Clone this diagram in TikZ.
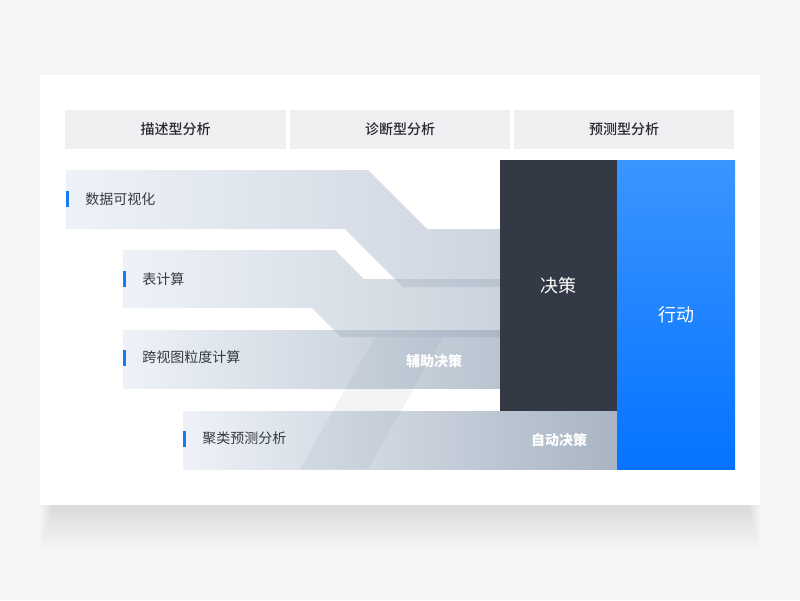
\documentclass[tikz,border=0pt]{standalone}
\usepackage{fontspec}
\newfontfamily\cjk{Noto Sans CJK SC}
\newfontfamily\cjkmid{Noto Sans CJK SC Medium}
\usetikzlibrary{positioning}
\definecolor{pagebg}{HTML}{F5F5F6}
\definecolor{headbg}{HTML}{EEEFF1}
\definecolor{headtxt}{HTML}{26282C}
\definecolor{flowink}{HTML}{363A42}
\definecolor{bandL}{HTML}{EEF2F8}
\definecolor{bandRa}{HTML}{CDD5DF}
\definecolor{bandRb}{HTML}{CBD3DC}
\definecolor{bandRc}{HTML}{B9C4D0}
\definecolor{bandRd}{HTML}{A9B5C4}
\definecolor{overlap}{HTML}{7F90A6}
\definecolor{decide}{HTML}{333A46}
\definecolor{actT}{HTML}{3A95FF}
\definecolor{actB}{HTML}{0673FF}
\definecolor{markblue}{HTML}{1A7CF5}

\tikzset{
  headtext/.style={font=\cjkmid\fontsize{14}{16}\selectfont,text=headtxt},
  flowtxt/.style={font=\cjk\fontsize{14}{16}\selectfont,text=flowink,anchor=west,inner sep=0pt},
  markbar/.style={fill=markblue,minimum width=2.5pt,minimum height=16pt,inner sep=0pt},
  band/.style={left color=bandL,right color=#1},
  bigtxt/.style={font=\cjk\fontsize{18}{20}\selectfont,text=white},
  tagtxt/.style={font=\cjk\fontsize{14}{16}\selectfont\bfseries,text=white}
}

\begin{document}
\begin{tikzpicture}[x=1pt,y=-1pt]
  \useasboundingbox (0,0) rectangle (800,600);
  \fill[pagebg] (0,0) rectangle (800,600);
  \foreach \k in {0,...,24}{
    \fill[black,opacity=0.003] (52-\k*0.5,95) rectangle (748+\k*0.5,510+\k*1.6);
  }
  \fill[white] (40,75) rectangle (760,505);

  \foreach \xa/\xb/\t [count=\i] in {65/286/描述型分析,290/510/诊断型分析,514/734/预测型分析}{
    \fill[headbg] (\xa,110) rectangle (\xb,149);
    \node[headtext] (hd\i) at ({(\xa+\xb)/2},129.5) {\t};
  }

  \shade[band=bandRa] (66,170) -- (368,170) -- (427,229) -- (500,229) -- (500,287) -- (403,287) -- (345,229) -- (66,229) -- cycle;
  \shade[band=bandRb] (123,250) -- (335,250) -- (364,279) -- (500,279) -- (500,337) -- (341,337) -- (312,308) -- (123,308) -- cycle;
  \shade[band=bandRc] (123,330) rectangle (500,388);
  \shade[band=bandRd] (183,411) rectangle (617,469);
  \fill[overlap,opacity=0.22] (395,279) -- (500,279) -- (500,287) -- (403,287) -- cycle;
  \fill[overlap,opacity=0.22] (334,330) -- (500,330) -- (500,337) -- (341,337) -- cycle;
  \fill[overlap,opacity=0.1] (300,469) -- (368,469) -- (443,337) -- (375,337) -- cycle;

  \fill[decide] (500,160) rectangle (617,411);
  \shade[top color=actT,bottom color=actB] (617,160) rectangle (735,469);

  \node[markbar] (m1) at (67.25,199) {};
  \node[markbar] (m2) at (124.25,279) {};
  \node[markbar] (m3) at (124.25,357.5) {};
  \node[markbar] (m4) at (184.25,438.5) {};
  \node[flowtxt,right=16.5pt of m1] (t1) {数据可视化};
  \node[flowtxt,right=16.5pt of m2] (t2) {表计算};
  \node[flowtxt,right=16.5pt of m3] (t3) {跨视图粒度计算};
  \node[flowtxt,right=16.5pt of m4] (t4) {聚类预测分析};

  \node[tagtxt] (aux) at (434,361) {辅助决策};
  \node[tagtxt] (auto) at (559,440) {自动决策};
  \node[bigtxt] (dec) at (558.5,286) {决策};
  \node[bigtxt] (act) at (676,315) {行动};
\end{tikzpicture}
\end{document}
